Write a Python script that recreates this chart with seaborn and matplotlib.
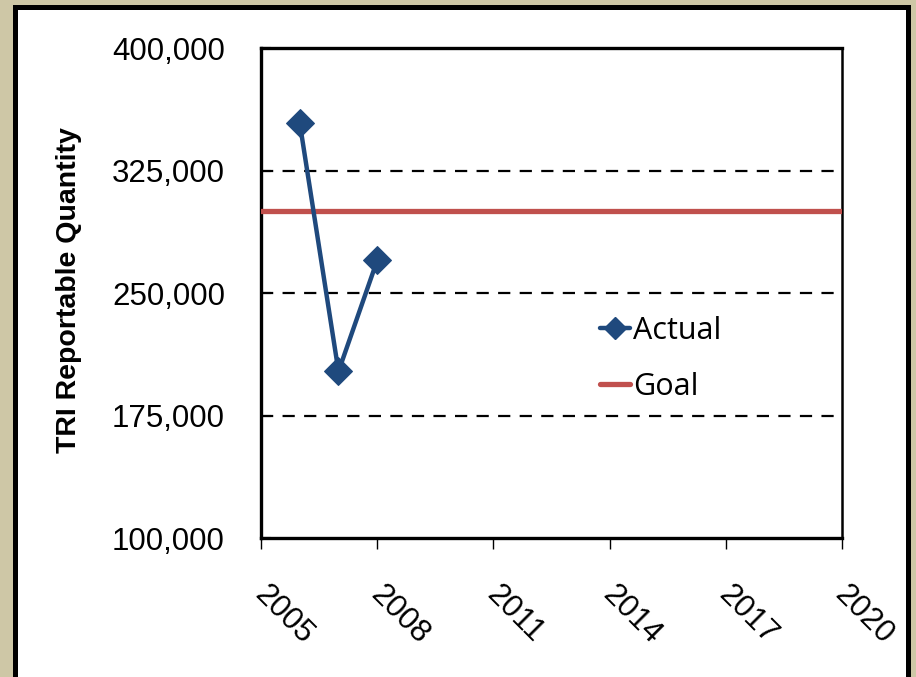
import matplotlib.pyplot as plt
import seaborn as sns
import pandas as pd
from matplotlib.lines import Line2D
from matplotlib.patches import Rectangle
from matplotlib.transforms import ScaledTranslation

# values
actual_years = [2006, 2007, 2008]
actual_values = [354000, 202000, 270000]
goal_years = [2005, 2020]
goal_values = [300000, 300000]
x_ticks = [2005, 2008, 2011, 2014, 2017, 2020]
y_ticks = [100000, 175000, 250000, 325000, 400000]
y_label = "TRI Reportable Quantity"

blue = "#1F497D"
red = "#C0504D"

sns.set_style("white")
plt.rcParams['font.family'] = ['Liberation Sans', 'DejaVu Sans']
plt.rcParams['text.color'] = 'black'
plt.rcParams['xtick.color'] = 'black'
plt.rcParams['ytick.color'] = 'black'
plt.rcParams['axes.labelcolor'] = 'black'

fig = plt.figure(figsize=(9.16, 6.77), dpi=100, facecolor="#CEC7A6")

# white panel with thick black border behind the chart
fig.patches.append(Rectangle((0.0169, -0.01), 0.9744, 0.9999, transform=fig.transFigure,
                             facecolor="white", edgecolor="black", linewidth=3.6, zorder=-10))

ax = fig.add_axes([0.285, 0.2053, 0.634, 0.7237])
ax.set_facecolor("white")

df_actual = pd.DataFrame({"year": actual_years, "value": actual_values})
df_goal = pd.DataFrame({"year": goal_years, "value": goal_values})

sns.lineplot(data=df_goal, x="year", y="value", ax=ax, color=red, linewidth=3.8, zorder=3)
sns.lineplot(data=df_actual, x="year", y="value", ax=ax, color=blue, linewidth=3.2,
             marker="D", markersize=14, markeredgecolor=blue, zorder=4)

# dashed horizontal gridlines
for v in y_ticks[1:-1]:
    ax.axhline(v, color="black", linewidth=1.6, linestyle=(0, (5.5, 4.2)), zorder=1)

ax.set_xlim(2005, 2020)
ax.set_ylim(100000, 400000)
ax.set_yticks(y_ticks)
ax.set_yticklabels([f"{v:,}" for v in y_ticks], fontsize=22.5)
ax.set_xticks(x_ticks)
ax.set_xticklabels([str(t) for t in x_ticks], fontsize=22.5, rotation=-45,
                   ha="left", va="top", rotation_mode="anchor")

ax.tick_params(axis="y", direction="in", length=7, width=1.5, pad=26, left=True)
ax.tick_params(axis="x", direction="out", length=8, width=1.0, pad=22, bottom=True)

# nudge the slanted year labels a little to the right
for lab in ax.get_xticklabels():
    lab.set_transform(lab.get_transform() + ScaledTranslation(6 / 72, 0, fig.dpi_scale_trans))

for side in ["left", "bottom", "top"]:
    ax.spines[side].set_linewidth(2.4)
    ax.spines[side].set_color("black")
ax.spines["right"].set_linewidth(1.8)
ax.spines["right"].set_color("black")

ax.set_xlabel("")
ax.set_ylabel(y_label, fontsize=20.5, fontweight="bold")
ax.yaxis.set_label_coords(-0.308, 0.506)

handles = [
    Line2D([], [], color=blue, linewidth=3.2, marker="D", markersize=11),
    Line2D([], [], color=red, linewidth=3.8),
]
ax.legend(handles, ["Actual", "Goal"], loc="center left", bbox_to_anchor=(0.536, 0.366),
          frameon=False, handlelength=1.0, handletextpad=0.1,
          labelspacing=0.85, prop={"family": ["Open Sans", "DejaVu Sans"], "size": 22})

fig.savefig("out.png", dpi=100, facecolor=fig.get_facecolor())
